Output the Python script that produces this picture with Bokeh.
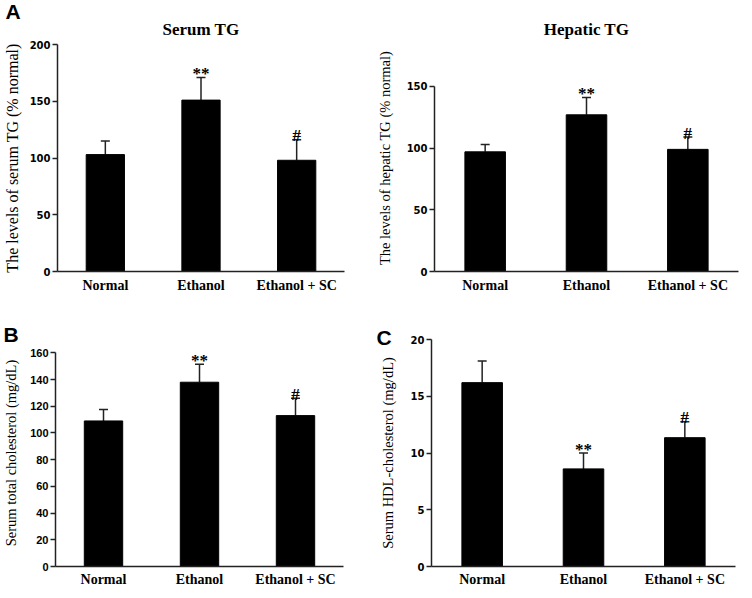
from bokeh.plotting import figure
from bokeh.models import ColumnDataSource, Whisker, TeeHead, Title, Range1d, FactorRange
from bokeh.layouts import column, row
from bokeh.embed import file_html
from bokeh.resources import INLINE
from bokeh.core.properties import value

groups = ["Normal", "Ethanol", "Ethanol + SC"]

serum_tg = [103, 151, 98]
serum_tg_err = [12, 20, 18]
serum_tg_sig = ["", "**", "#"]
serum_tg_ticks = [0, 50, 100, 150, 200]

hepatic_tg = [97, 127, 99]
hepatic_tg_err = [6, 14, 10]
hepatic_tg_sig = ["", "**", "#"]
hepatic_tg_ticks = [0, 50, 100, 150]

total_chol = [109, 138, 113]
total_chol_err = [8.5, 13.5, 13]
total_chol_sig = ["", "**", "#"]
total_chol_ticks = [0, 20, 40, 60, 80, 100, 120, 140, 160]

hdl_chol = [16.2, 8.6, 11.35]
hdl_chol_err = [1.9, 1.4, 1.4]
hdl_chol_sig = ["", "**", "#"]
hdl_chol_ticks = [0, 5, 10, 15, 20]

SERIF = "Liberation Serif"


def letter_title(letter, offset, standoff):
    return Title(text=letter, align="left", offset=offset, standoff=standoff,
                 text_font="Liberation Sans", text_font_style="bold",
                 text_font_size="21px", text_color="black")


def spacer(standoff):
    return Title(text=" ", standoff=standoff, text_font_size="1px")


def panel(vals, errs, sigs, ticks, ylabel, y_end, fw, fh, borders, title=None,
          letter=None, letter_offset=0, letter_standoff=0, top_space=None,
          tick_font="DejaVu Sans", tick_size="10px", ylabel_size="15px",
          ylabel_standoff=6, xlabel_standoff=6, title_standoff=12):
    left, right, top, bottom = borders
    p = figure(frame_width=fw, frame_height=fh, x_range=FactorRange(factors=groups),
               y_range=Range1d(0, y_end), output_backend="svg",
               toolbar_location=None, min_border_left=left, min_border_right=right,
               min_border_top=top, min_border_bottom=bottom)
    src = ColumnDataSource(dict(
        x=groups, v=vals,
        top=[a + b for a, b in zip(vals, errs)],
        sig=sigs))
    p.vbar(x="x", top="v", width=0.4, source=src, fill_color="black",
           line_color="black")
    wh = Whisker(base="x", upper="top", lower="v", source=src,
                 upper_head=TeeHead(size=9, line_width=1.5, line_color="#222222"),
                 lower_head=None, line_width=1.5, line_color="#222222")
    p.add_layout(wh)
    p.text(x="x", y="top", text="sig", source=src, text_align="center",
           text_baseline="alphabetic", y_offset=-4,
           text_font=value(SERIF), text_font_style="bold", text_font_size="17px",
           text_color="black")
    p.grid.visible = False
    p.outline_line_color = None
    p.background_fill_color = "white"
    p.border_fill_color = "white"

    xa = p.xaxis[0]
    xa.major_tick_line_color = None
    xa.minor_tick_line_color = None
    xa.major_tick_out = 0
    xa.major_tick_in = 0
    xa.axis_line_width = 1.5
    xa.axis_line_color = "#222222"
    xa.major_label_text_font = SERIF
    xa.major_label_text_font_style = "bold"
    xa.major_label_text_font_size = "14px"
    xa.major_label_text_color = "black"
    xa.major_label_standoff = xlabel_standoff

    ya = p.yaxis[0]
    ya.ticker = ticks
    ya.bounds = (0, ticks[-1])
    ya.minor_tick_line_color = None
    ya.major_tick_in = 0
    ya.major_tick_out = 5
    ya.major_tick_line_width = 1.5
    ya.major_tick_line_color = "#222222"
    ya.axis_line_width = 1.5
    ya.axis_line_color = "#222222"
    ya.major_label_text_font = tick_font
    ya.major_label_text_font_style = "bold"
    ya.major_label_text_font_size = tick_size
    ya.major_label_text_color = "black"
    ya.major_label_standoff = 2
    ya.axis_label = ylabel
    ya.axis_label_text_font = SERIF
    ya.axis_label_text_font_style = "normal"
    ya.axis_label_text_font_size = ylabel_size
    ya.axis_label_text_color = "black"
    ya.axis_label_standoff = ylabel_standoff

    # "above" panels stack outward from the frame in list order; p.title is outermost
    if title:
        p.add_layout(Title(text=title, align="center", text_font=SERIF,
                           text_font_style="bold", text_font_size="17px",
                           text_color="black", standoff=title_standoff), "above")
    if letter is not None:
        lt = letter_title(letter, letter_offset, letter_standoff)
        if top_space is not None:
            p.add_layout(lt, "above")
            p.title = spacer(top_space)
        else:
            p.title = lt
    else:
        p.title = None
    return p


p1 = panel(serum_tg, serum_tg_err, serum_tg_sig, serum_tg_ticks,
           "The levels of serum TG (% normal)", 200, 287, 227, (52, 29, 37, 26),
           title="Serum TG", letter="A", letter_offset=-52, letter_standoff=-22,
           top_space=5, ylabel_size="16px")
# same stack of top panels as the left one (blank letter slot) so both frames line up
p2 = panel(hepatic_tg, hepatic_tg_err, hepatic_tg_sig, hepatic_tg_ticks,
           "The levels of hepatic TG (% normal)", 184, 304, 227, (60, 4, 37, 26),
           title="Hepatic TG", letter=" ", letter_offset=-60, letter_standoff=-22,
           top_space=5, ylabel_size="14.5px", ylabel_standoff=11)
p3 = panel(total_chol, total_chol_err, total_chol_sig, total_chol_ticks,
           "Serum total cholesterol (mg/dL)", 170, 288, 227, (52, 28, 42, 22),
           letter="B", letter_offset=-52, letter_standoff=-13,
           tick_font="Liberation Sans", tick_size="11px", ylabel_size="14.5px",
           ylabel_standoff=8, xlabel_standoff=5)
p4 = panel(hdl_chol, hdl_chol_err, hdl_chol_sig, hdl_chol_ticks,
           "Serum HDL-cholesterol (mg/dL)", 20, 304, 227, (60, 4, 42, 22),
           letter="C", letter_offset=-55, letter_standoff=-19, top_space=7,
           ylabel_size="14.5px", ylabel_standoff=12, xlabel_standoff=5)

layout = column(row(p1, p2), row(p3, p4))
open("out.html", "w").write(file_html(layout, INLINE))
